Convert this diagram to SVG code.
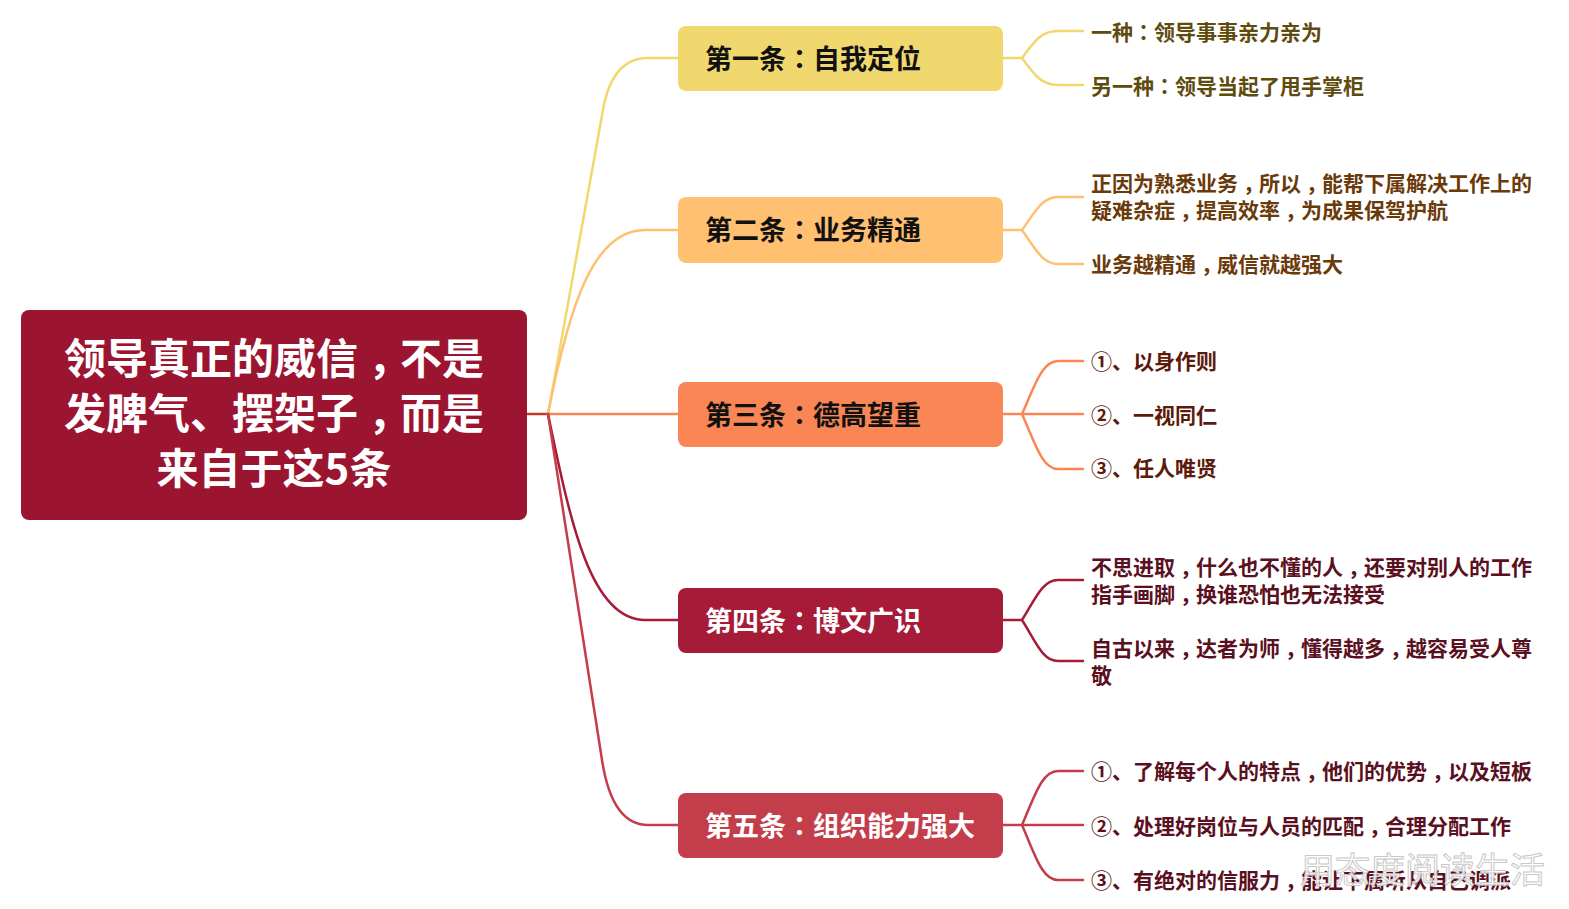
<svg xmlns="http://www.w3.org/2000/svg" width="1569" height="909" viewBox="0 0 1569 909">
<style>
text{font-family:"Noto Sans CJK SC","Noto Sans",sans-serif;font-weight:bold}
.p{font-family:"Noto Sans CJK TC","Noto Sans CJK SC",sans-serif}
.k{letter-spacing:-5px}
.K{letter-spacing:-10px}
.root{font-size:42px;fill:#fff}
.br{font-size:27px}
.lf{font-size:21px}
.c{fill:none;stroke-width:2.5;stroke-linecap:round}
</style>
<rect width="1569" height="909" fill="#fff"/>
<g id="connectors">
<path class="c" stroke="#C0392B" d="M527,414 L548,414"/>
<path class="c" stroke="#F0D86E" d="M548,414 L603,110 Q612,58 648,58 L678,58"/>
<path class="c" stroke="#FFC072" d="M548,414 C570,300 595,230 645,230 L678,230"/>
<path class="c" stroke="#FA8656" d="M548,414 L678,414"/>
<path class="c" stroke="#A61B38" d="M548,414 C570,520 590,620 645,620 L678,620"/>
<path class="c" stroke="#C43D4B" d="M548,414 L602,760 Q612,825 648,825 L678,825"/>
<path class="c" stroke="#F0D86E" d="M1003,58 L1022,58 C1035,40 1042,31 1058,31 L1083,31 M1022,58 C1035,76 1042,85 1058,85 L1083,85"/>
<path class="c" stroke="#FFC072" d="M1003,230 L1022,230 C1035,212 1042,197 1058,197 L1083,197 M1022,230 C1035,248 1042,264 1058,264 L1083,264"/>
<path class="c" stroke="#FA8656" d="M1003,414 L1083,414 M1022,414 C1035,385 1042,361 1058,361 L1083,361 M1022,414 C1035,443 1042,469 1058,469 L1083,469"/>
<path class="c" stroke="#A61B38" d="M1003,620 L1022,620 C1035,600 1042,580 1058,580 L1083,580 M1022,620 C1035,640 1042,661 1058,661 L1083,661"/>
<path class="c" stroke="#C43D4B" d="M1003,825 L1083,825 M1022,825 C1035,795 1042,771 1058,771 L1083,771 M1022,825 C1035,855 1042,880 1058,880 L1083,880"/>
</g>
<g id="root">
<rect x="21" y="310" width="506" height="210" rx="8" fill="#9B1530"/>
<text class="root" x="274" y="374" text-anchor="middle">领导真正的威信<tspan class="K" dx="10">，</tspan>不是</text>
<text class="root" x="274" y="429" text-anchor="middle">发脾气、摆架子<tspan class="K" dx="10">，</tspan>而是</text>
<text class="root" x="274" y="484" text-anchor="middle">来自于这5条</text>
</g>
<g id="n1">
<rect x="678" y="26" width="325" height="65" rx="8" fill="#F0D86E"/>
<text class="br" x="705" y="69" fill="#111">第一条<tspan class="p">：</tspan>自我定位</text>
</g>
<g id="n2">
<rect x="678" y="197" width="325" height="66" rx="8" fill="#FFC072"/>
<text class="br" x="705" y="240" fill="#111">第二条<tspan class="p">：</tspan>业务精通</text>
</g>
<g id="n3">
<rect x="678" y="382" width="325" height="65" rx="8" fill="#FA8656"/>
<text class="br" x="705" y="425" fill="#111">第三条<tspan class="p">：</tspan>德高望重</text>
</g>
<g id="n4">
<rect x="678" y="588" width="325" height="65" rx="8" fill="#A61B38"/>
<text class="br" x="705" y="631" fill="#fff">第四条<tspan class="p">：</tspan>博文广识</text>
</g>
<g id="n5">
<rect x="678" y="793" width="325" height="65" rx="8" fill="#C43D4B"/>
<text class="br" x="705" y="836" fill="#fff">第五条<tspan class="p">：</tspan>组织能力强大</text>
</g>
<g id="leaves1" fill="#5E4B0E">
<text class="lf" x="1091" y="40">一种<tspan class="p">：</tspan>领导事事亲力亲为</text>
<text class="lf" x="1091" y="94">另一种<tspan class="p">：</tspan>领导当起了甩手掌柜</text>
</g>
<g id="leaves2" fill="#6B3A0A">
<text class="lf" x="1091" y="191">正因为熟悉业务<tspan class="k" dx="5">，</tspan>所以<tspan class="k" dx="5">，</tspan>能帮下属解决工作上的</text>
<text class="lf" x="1091" y="218">疑难杂症<tspan class="k" dx="5">，</tspan>提高效率<tspan class="k" dx="5">，</tspan>为成果保驾护航</text>
<text class="lf" x="1091" y="272">业务越精通<tspan class="k" dx="5">，</tspan>威信就越强大</text>
</g>
<g id="leaves3" fill="#5C1A0A">
<text class="lf" x="1091" y="369">①、以身作则</text>
<text class="lf" x="1091" y="423">②、一视同仁</text>
<text class="lf" x="1091" y="476">③、任人唯贤</text>
</g>
<g id="leaves4" fill="#5A1020">
<text class="lf" x="1091" y="575">不思进取<tspan class="k" dx="5">，</tspan>什么也不懂的人<tspan class="k" dx="5">，</tspan>还要对别人的工作</text>
<text class="lf" x="1091" y="602">指手画脚<tspan class="k" dx="5">，</tspan>换谁恐怕也无法接受</text>
<text class="lf" x="1091" y="656">自古以来<tspan class="k" dx="5">，</tspan>达者为师<tspan class="k" dx="5">，</tspan>懂得越多<tspan class="k" dx="5">，</tspan>越容易受人尊</text>
<text class="lf" x="1091" y="683">敬</text>
</g>
<g id="leaves5" fill="#5A1020">
<text class="lf" x="1091" y="779">①、了解每个人的特点<tspan class="k" dx="5">，</tspan>他们的优势<tspan class="k" dx="5">，</tspan>以及短板</text>
<text class="lf" x="1091" y="834">②、处理好岗位与人员的匹配<tspan class="k" dx="5">，</tspan>合理分配工作</text>
<text class="lf" x="1091" y="888">③、有绝对的信服力<tspan class="k" dx="5">，</tspan>能让下属听从自己调派</text>
</g>
<text x="1300" y="883" style="font-size:35px;font-weight:normal" fill="#fff" fill-opacity="0.85" stroke="#c8c8c8" stroke-width="1">用态度阅读生活</text>
</svg>
